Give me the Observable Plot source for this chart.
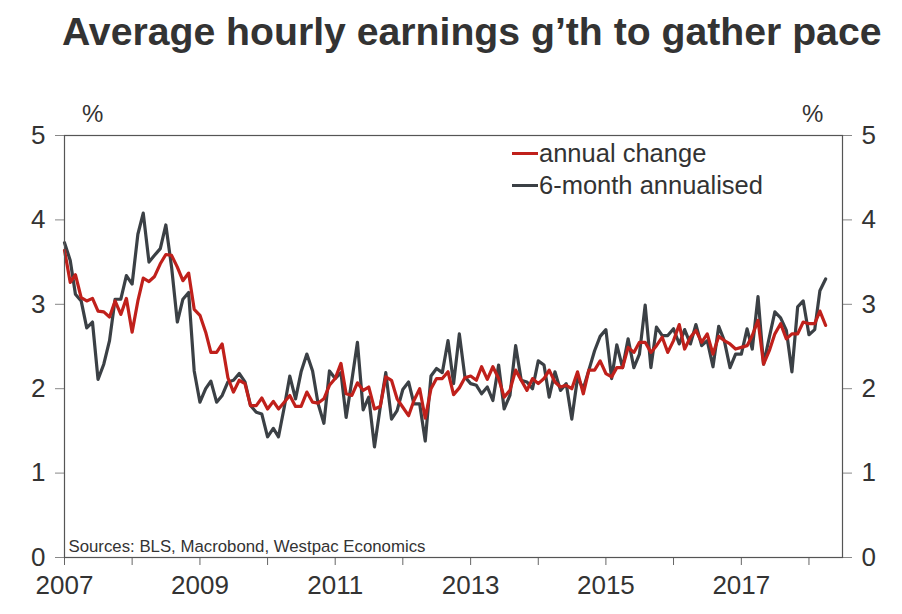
<!DOCTYPE html>
<html>
<head>
<meta charset="utf-8">
<script src="https://cdn.jsdelivr.net/npm/d3@7"></script>
<script src="https://cdn.jsdelivr.net/npm/@observablehq/plot@0.6"></script>
<style>
  html, body { margin: 0; padding: 0; background: #fff; }
  #wrap { position: relative; width: 902px; height: 614px; font-family: "Liberation Sans", Arial, sans-serif; color: #333; }
  #title { position: absolute; left: 62px; top: 10px; font-size: 39.2px; font-weight: bold; color: #333; white-space: nowrap; }
  #chart { position: absolute; left: 0; top: 0; }
  .pct { position: absolute; top: 100px; font-size: 24px; color: #333; }
  #legend { position: absolute; left: 512px; top: 137px; font-size: 25.5px; color: #333; line-height: 32px; }
  #legend div { display: flex; align-items: center; white-space: nowrap; }
  #legend span.sw { display: inline-block; width: 26px; height: 3px; margin-right: 1px; }
</style>
</head>
<body>
<div id="wrap">
  <div id="chart"></div>
  <div id="title">Average hourly earnings g’th to gather pace</div>
  <div class="pct" style="left:82px">%</div>
  <div class="pct" style="left:802px">%</div>
  <div id="legend"></div>
</div>
<script>
// ---- data ----
const startMonth = "2007-01-01";
const seriesNames = ["annual change", "6-month annualised"];
const seriesColors = ["#C0201B", "#3B4045"];
const annualChange = [
  3.64,3.26,3.35,3.08,3.04,3.07,2.92,2.91,2.85,3.04,2.88,3.07,
  2.67,3.04,3.31,3.27,3.33,3.48,3.59,3.58,3.44,3.28,3.37,2.94,
  2.87,2.67,2.43,2.43,2.53,2.13,1.96,2.10,2.06,1.80,1.80,1.89,
  1.76,1.85,1.76,1.84,1.92,1.79,1.79,1.96,1.84,1.83,1.88,2.04,
  2.12,2.30,1.94,1.92,2.07,1.98,2.02,1.76,1.79,2.14,2.10,1.88,
  1.78,1.68,1.86,2.00,1.65,2.00,2.12,2.12,2.20,1.93,2.01,2.13,
  2.15,2.10,2.26,2.11,2.26,2.12,1.90,1.98,2.22,2.10,1.98,2.12,
  2.06,2.12,2.22,2.08,2.02,2.04,2.00,2.20,1.94,2.22,2.22,2.33,
  2.18,2.14,2.25,2.25,2.49,2.43,2.55,2.55,2.43,2.51,2.61,2.43,
  2.57,2.76,2.47,2.61,2.69,2.55,2.65,2.41,2.62,2.57,2.53,2.47,
  2.49,2.51,2.63,2.81,2.29,2.45,2.65,2.77,2.59,2.65,2.65,2.79,
  2.77,2.77,2.92,2.75
];
const sixMonthAnnualised = [
  3.73,3.52,3.12,3.04,2.72,2.79,2.11,2.29,2.57,3.06,3.06,3.34,
  3.24,3.83,4.08,3.50,3.58,3.66,3.94,3.44,2.79,3.06,3.14,2.21,
  1.84,2.00,2.09,1.84,1.92,2.08,2.10,2.18,2.08,1.80,1.72,1.70,
  1.43,1.53,1.43,1.78,2.15,1.88,2.20,2.41,2.21,1.82,1.59,2.21,
  2.12,2.19,1.66,2.10,2.55,1.75,1.90,1.31,1.78,2.19,1.64,1.74,
  1.99,2.08,1.82,1.82,1.38,2.15,2.24,2.19,2.57,2.06,2.65,2.14,
  2.06,2.04,1.94,2.02,1.86,2.28,1.76,1.92,2.51,2.10,2.08,2.00,
  2.33,2.28,1.90,2.20,1.98,2.06,1.64,2.13,2.00,2.22,2.45,2.62,
  2.70,2.12,2.52,2.25,2.59,2.25,2.41,2.99,2.25,2.73,2.63,2.63,
  2.71,2.53,2.70,2.53,2.76,2.51,2.57,2.26,2.74,2.57,2.25,2.41,
  2.41,2.71,2.47,3.09,2.29,2.61,2.91,2.84,2.69,2.20,2.97,3.04,
  2.64,2.70,3.16,3.30
];
const yTicks = [0, 1, 2, 3, 4, 5];
const xDomain = ["2007-01-01", "2018-07-01"];
const xTickYears = ["2007","2008","2009","2010","2011","2012","2013","2014","2015","2016","2017","2018"];
const sourceNote = "Sources: BLS, Macrobond, Westpac Economics";

// ---- build table ----
const start = new Date(startMonth);
const rows = [];
[annualChange, sixMonthAnnualised].forEach((arr, si) => {
  arr.forEach((v, i) => rows.push({date: d3.utcMonth.offset(start, i), value: v, series: seriesNames[si]}));
});
const ink = "#333";
const yAxisOpts = {ticks: yTicks, tickSize: 9, tickPadding: 10, fontSize: 26, label: null, stroke: "#888", fill: ink, tickFormat: d3.format("d")};
const chart = Plot.plot({
  width: 902,
  height: 614,
  marginTop: 135,
  marginBottom: 57,
  marginLeft: 64,
  marginRight: 60,
  style: {fontFamily: '"Liberation Sans", Arial, sans-serif', background: "transparent"},
  x: {type: "utc", domain: xDomain.map(d => new Date(d))},
  y: {domain: [0, 5]},
  color: {domain: seriesNames, range: seriesColors},
  marks: [
    Plot.axisY({anchor: "left", ...yAxisOpts}),
    Plot.axisY({anchor: "right", ...yAxisOpts}),
    Plot.axisX({ticks: xTickYears.map(y => new Date(y + "-01-01")), tickSize: 8, tickPadding: 10, fontSize: 26, label: null, stroke: "#666", fill: ink,
      tickFormat: d => (d.getUTCFullYear() % 2 === 1 ? String(d.getUTCFullYear()) : "")}),
    Plot.line(rows.filter(r => r.series === seriesNames[1]), {x: "date", y: "value", stroke: "series", strokeWidth: 3.2, strokeLinejoin: "round"}),
    Plot.line(rows.filter(r => r.series === seriesNames[0]), {x: "date", y: "value", stroke: "series", strokeWidth: 3.2, strokeLinejoin: "round"}),
    Plot.frame({stroke: "#555", strokeWidth: 1.2}),
    Plot.text([sourceNote], {frameAnchor: "bottom-left", dx: 4, dy: -6, fontSize: 16.8, fill: ink, textAnchor: "start"})
  ]
});
document.getElementById("chart").appendChild(chart);

// legend
const leg = document.getElementById("legend");
seriesNames.forEach((n, i) => {
  const d = document.createElement("div");
  d.innerHTML = `<span class="sw" style="background:${seriesColors[i]}"></span>${n}`;
  leg.appendChild(d);
});
</script>
</body>
</html>
